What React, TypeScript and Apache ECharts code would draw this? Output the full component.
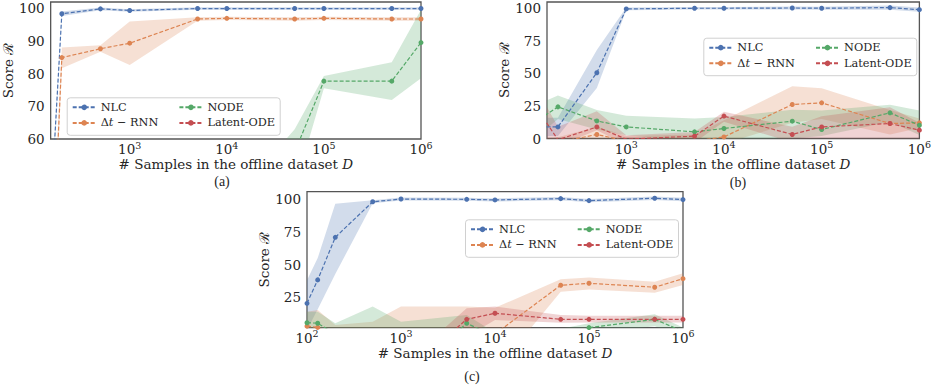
import React, { useEffect, useRef } from 'react';
import * as echarts from 'echarts';

// ---------------- data ----------------
const SAMPLES = [100, 130, 200, 500, 1000, 5000, 10000, 50000, 100000, 500000, 1000000];
const METHODS = ['NLC', 'Δt − RNN', 'NODE', 'Latent-ODE'];
const COLORS = ['#4C72B0', '#DD8452', '#55A868', '#C44E52'];

const A_Y_TICKS = [60, 70, 80, 90, 100];
const B_Y_TICKS = [0, 25, 50, 75, 100];
const C_Y_TICKS = [25, 50, 75, 100];
const AB_X_TICK_EXPONENTS = [3, 4, 5, 6];
const C_X_TICK_EXPONENTS = [2, 3, 4, 5, 6];

// panel (a)
const A_NLC = [0, 0, 98.3, 99.8, 99.3, 99.9, 99.9, 99.9, 99.9, 99.9, 99.9];
const A_NLC_LO = [-3, -3, 97.6, 99.4, 98.9, 99.5, 99.5, 99.5, 99.5, 99.5, 99.5];
const A_NLC_HI = [3, 3, 99.0, 100.2, 99.7, 100.3, 100.3, 100.3, 100.3, 100.3, 100.3];
const A_RNN = [-40, -38, 84.9, 87.6, 89.3, 96.7, 96.9, 96.7, 96.9, 96.7, 96.7];
const A_RNN_LO = [-50, -48, 81.6, 86.7, 82.6, 96.2, 96.4, 96.2, 96.4, 96.2, 96.2];
const A_RNN_HI = [-30, -28, 88.0, 88.7, 95.9, 97.2, 97.4, 97.2, 97.4, 97.2, 97.2];
const A_NODE = [5, 8, 10, 14, 18, 24, 30, 56, 77.7, 77.7, 89.5];
const A_NODE_LO = [0, 2, 4, 6, 9, 14, 20, 45, 75.5, 71.9, 78.6];
const A_NODE_HI = [10, 14, 16, 22, 27, 33, 39, 63, 79.3, 83.5, 99.5];
const A_LAT = [2, 4, 8, 12, 10, 18, 25, 22, 30, 35, 40];
const A_LAT_LO = [0, 0, 3, 6, 5, 12, 18, 15, 22, 27, 30];
const A_LAT_HI = [5, 8, 13, 18, 16, 24, 32, 29, 38, 43, 50];

// panel (b)
const B_NLC = [9, 9, 8.9, 50.5, 99.5, 100, 100, 100.2, 100, 100.5, 98.9];
const B_NLC_LO = [2, 2, 2, 38.7, 98.5, 99, 99, 99.1, 98.8, 98.8, 97.3];
const B_NLC_HI = [16, 16, 16, 68, 100.5, 101, 101, 101.3, 101.2, 102.2, 100.5];
const B_RNN = [-5, -5, -3, 3.1, -2, -2, 1.2, 26.1, 27.4, 11.5, 12];
const B_RNN_LO = [-10, -10, -8, -2, -6, -6, -4, 12, 15, 3, 8];
const B_RNN_HI = [0, 0, 1, 9, 2, 3, 14, 40.2, 38.5, 21.8, 15.4];
const B_NODE = [12, 15, 24.3, 13.5, 8.9, 5.1, 7.7, 13.3, 6.9, 19.7, 10.2];
const B_NODE_LO = [2, 3, 15, 7, 2.5, -2, -1, 0, 2, 12.8, 2.7];
const B_NODE_HI = [25, 27, 33, 21.8, 17.5, 15.4, 16.6, 22, 21.5, 26, 21.5];
const B_LAT = [18, 20, -1, 8.9, -0.5, 1.8, 17.2, 3.1, 8.9, 11.5, 6.4];
const B_LAT_LO = [0, 0, -6, 6.4, -5, -3, 12.8, -3, 0, -1, -2];
const B_LAT_HI = [30, 34, 9, 21, 2.5, 5, 20.5, 9, 17, 24, 12];

// panel (c)
const C_NLC = [20.4, 38.3, 70.8, 97.9, 100, 99.8, 99.3, 100.3, 98.8, 100.6, 99.6];
const C_NLC_LO = [0, 15.9, 42.8, 96.8, 98.8, 98.6, 98.1, 99.1, 97.6, 99.3, 98.3];
const C_NLC_HI = [38, 55, 96.4, 99, 101.2, 101, 100.5, 101.5, 100, 102, 100.9];
const C_RNN = [3, 2, -5, -10, -10, -8, -3, 34.2, 35.7, 32.7, 39.2];
const C_RNN_LO = [-5, -3, -10, -15, -15, -20, -31.7, 29.2, 31, 28.5, 34.4];
const C_RNN_HI = [14, 15.3, 3.9, 6.4, 18, 18, 17, 38.7, 40.2, 36.9, 43.3];
const C_NODE = [5.6, 5.2, -3, -20, -39, 5.2, -5, -10, 1.9, 8.2, -1];
const C_NODE_LO = [-3, -3, -10, -30, -50, -5, -15, -20, -3, 3, -5];
const C_NODE_HI = [14, 14, 5.2, 17.9, 6.4, 11.5, -2, 1, 5.2, 12, 2];
const C_LAT = [-40, -40, -40, -38, -35, 8.2, 12.8, 8.2, 8.2, 8.2, 8.2];
const C_LAT_LO = [-60, -60, -60, -55, -50, -5, 7.7, 5.5, 5.7, 5.7, 5.7];
const C_LAT_HI = [-20, -20, -20, -25, -28, 16.6, 18, 11.5, 11, 11, 11];

const PANEL_DATA = [
  [[A_NLC, A_NLC_LO, A_NLC_HI], [A_RNN, A_RNN_LO, A_RNN_HI], [A_NODE, A_NODE_LO, A_NODE_HI], [A_LAT, A_LAT_LO, A_LAT_HI]],
  [[B_NLC, B_NLC_LO, B_NLC_HI], [B_RNN, B_RNN_LO, B_RNN_HI], [B_NODE, B_NODE_LO, B_NODE_HI], [B_LAT, B_LAT_LO, B_LAT_HI]],
  [[C_NLC, C_NLC_LO, C_NLC_HI], [C_RNN, C_RNN_LO, C_RNN_HI], [C_NODE, C_NODE_LO, C_NODE_HI], [C_LAT, C_LAT_LO, C_LAT_HI]],
];

// ---------------- layout ----------------
const FONT = 'DejaVu Serif';
const TEXT = '#262626';
const PANELS = [
  { grid: { left: 47.5, top: 2, width: 373.5, height: 137 }, xMin: Math.log10(153.5), yMin: 60, yMax: 101.9, yTicks: A_Y_TICKS, xTicks: AB_X_TICK_EXPONENTS, yGap: 33, legend: { left: 71.7, top: 100.3 }, caption: { x: 222, y: 181, text: '(a)' } },
  { grid: { left: 547, top: 2, width: 375, height: 136.5 }, xMin: Math.log10(154.5), yMin: 0, yMax: 104.8, yTicks: B_Y_TICKS, xTicks: AB_X_TICK_EXPONENTS, yGap: 31, legend: { left: 708.3, top: 40.7 }, caption: { x: 738, y: 182, text: '(b)' } },
  { grid: { left: 307, top: 191.7, width: 376, height: 136 }, xMin: 2, yMin: 1.8, yMax: 105.6, yTicks: C_Y_TICKS, xTicks: C_X_TICK_EXPONENTS, yGap: 31, legend: { left: 470, top: 222.3 }, caption: { x: 472, y: 376, text: '(c)' } },
];

function rgba(hex: string, a: number) {
  const n = parseInt(hex.slice(1), 16);
  return `rgba(${(n >> 16) & 255},${(n >> 8) & 255},${n & 255},${a})`;
}

const legendRich = {
  n: { fontFamily: FONT, fontSize: 11.3, color: TEXT, lineHeight: 14 },
  it: { fontFamily: FONT, fontSize: 11.3, color: TEXT, lineHeight: 14, fontStyle: 'italic' },
};
function legendFormatter(name: string) {
  if (name === 'Δt − RNN') return '{n|Δ}{it|t}{n| − RNN}';
  return `{n|${name}}`;
}

function buildOption() {
  const grid: any[] = [];
  const xAxis: any[] = [];
  const yAxis: any[] = [];
  const series: any[] = [];
  const legend: any[] = [];
  const graphic: any[] = [];

  PANELS.forEach((p, g) => {
    grid.push({ ...p.grid, show: true, borderColor: '#555', borderWidth: 1.3, backgroundColor: 'transparent' });
    xAxis.push({
      gridIndex: g, type: 'value', min: p.xMin, max: 6,
      axisLine: { show: false }, axisTick: { show: false }, splitLine: { show: false },
      axisLabel: {
        customValues: p.xTicks, margin: 1,
        formatter: (v: number) => `{b|10}{s|${Math.round(v)}}`,
        rich: {
          b: { fontFamily: FONT, fontSize: 13.5, color: TEXT, lineHeight: 18 },
          s: { fontFamily: FONT, fontSize: 9.5, color: TEXT, lineHeight: 10, verticalAlign: 'top' },
        },
      },
      name: '# Samples in the offline dataset {i|D}', nameLocation: 'middle', nameGap: 18,
      nameTextStyle: {
        fontFamily: FONT, fontSize: 13.5, color: TEXT,
        rich: { i: { fontFamily: FONT, fontSize: 13.5, color: TEXT, fontStyle: 'italic' } },
      },
    });
    yAxis.push({
      gridIndex: g, type: 'value', min: p.yMin, max: p.yMax,
      axisLine: { show: false }, axisTick: { show: false }, splitLine: { show: false },
      axisLabel: { customValues: p.yTicks, margin: 6, fontFamily: FONT, fontSize: 13.5, color: TEXT },
      name: 'Score ℛ', nameLocation: 'middle', nameGap: p.yGap,
      nameTextStyle: { fontFamily: FONT, fontSize: 13.5, color: TEXT },
    });

    // bands
    PANEL_DATA[g].forEach((m, k) => {
      const [, lo, hi] = m;
      const color = rgba(COLORS[k], 0.25);
      series.push({
        type: 'custom', name: `${METHODS[k]} band ${g}`, xAxisIndex: g, yAxisIndex: g, silent: true, z: 1,
        data: SAMPLES.map((n, i) => [Math.log10(n), lo[i], hi[i]]),
        encode: { x: 0, y: [1, 2] },
        renderItem: (params: any, api: any) => {
          if (params.dataIndex !== 0) return null;
          const len = params.dataInsideLength;
          const top: number[][] = [];
          const bot: number[][] = [];
          for (let i = 0; i < len; i++) {
            const x = api.value(0, i);
            top.push(api.coord([x, api.value(2, i)]));
            bot.push(api.coord([x, api.value(1, i)]));
          }
          const cs = params.coordSys;
          return {
            type: 'polygon',
            shape: { points: top.concat(bot.reverse()) },
            style: { fill: color },
            clipPath: { type: 'rect', shape: { x: cs.x, y: cs.y, width: cs.width, height: cs.height } },
            silent: true,
          };
        },
      });
    });
  });

  PANELS.forEach((p, g) => {
    PANEL_DATA[g].forEach((m, k) => {
      const [mean] = m;
      series.push({
        type: 'line', name: METHODS[k], xAxisIndex: g, yAxisIndex: g, z: 3,
        data: SAMPLES.map((n, i) => [Math.log10(n), mean[i]]),
        symbol: 'circle', symbolSize: 5, showSymbol: true, clip: true,
        lineStyle: { color: COLORS[k], width: 1.2, type: [4, 2] },
        itemStyle: { color: COLORS[k] },
      });
    });

    const L = p.legend;
    graphic.push({
      type: 'rect', z: 20,
      shape: { x: L.left - 4.5, y: L.top - 2.5, width: 213, height: 37.5, r: 3 },
      style: { fill: 'rgba(255,255,255,0.85)', stroke: '#d0d0d0', lineWidth: 1 },
    });
    [[METHODS[0], METHODS[1]], [METHODS[2], METHODS[3]]].forEach((names, c) => {
      legend.push({
        data: names, orient: 'vertical', left: L.left + c * 106.7, top: L.top, padding: 0,
        itemWidth: 23, itemHeight: 7, itemGap: 1.6, z: 30, selectedMode: false,
        formatter: legendFormatter,
        textStyle: { fontFamily: FONT, fontSize: 11.3, color: TEXT, lineHeight: 14, rich: legendRich },
      });
    });
    graphic.push({
      type: 'text', x: p.caption.x, y: p.caption.y, z: 20,
      style: { text: p.caption.text, fontFamily: 'Liberation Serif', fontSize: 14, fill: TEXT, textAlign: 'center', verticalAlign: 'middle' },
    });
  });

  return { animation: false, backgroundColor: '#fff', grid, xAxis, yAxis, series, legend, graphic };
}

export default function App() {
  const ref = useRef<HTMLDivElement>(null);
  useEffect(() => {
    if (!ref.current) return;
    const chart = echarts.init(ref.current, null, { renderer: 'svg' });
    chart.setOption(buildOption() as any);
    return () => chart.dispose();
  }, []);
  return <div ref={ref} style={{ position: 'absolute', left: 0, top: 0, width: 934, height: 385 }} />;
}
